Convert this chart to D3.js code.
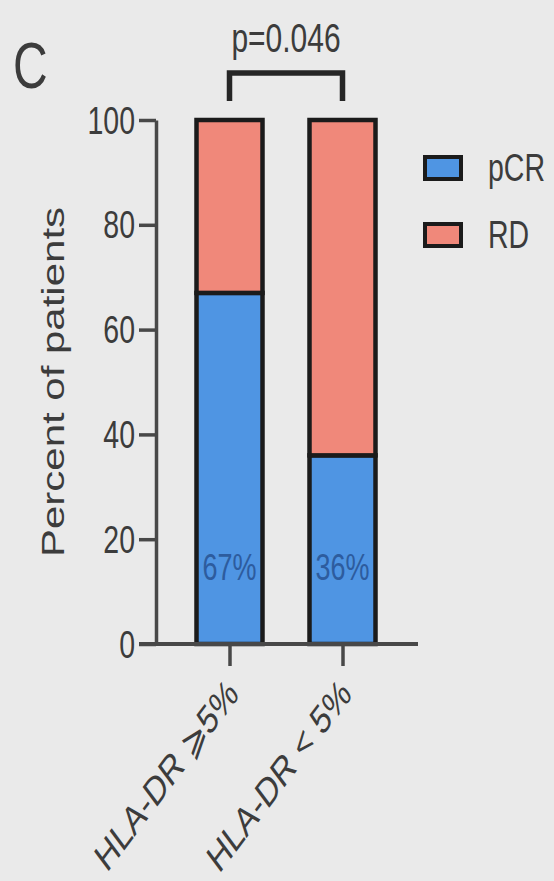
<!DOCTYPE html>
<html>
<head>
<meta charset="utf-8">
<script src="https://cdn.jsdelivr.net/npm/d3@7"></script>
<style>
  html, body { margin: 0; padding: 0; background: #eaeaea; }
  svg { display: block; }
  text { font-family: "Liberation Sans", Arial, Helvetica, sans-serif; }
</style>
</head>
<body>
<script>
// Percent of patients reaching pCR vs RD, split by HLA-DR expression
const categories = ["HLA-DR \u2A7E5%", "HLA-DR < 5%"];
const pCR = [67, 36];
const RD = [33, 64];
const pctLabels = ["67%", "36%"];
const yTicks = [0, 20, 40, 60, 80, 100];
const seriesNames = ["pCR", "RD"];
const seriesColors = ["#4f95e3", "#f0887a"];
const pValueText = "p=0.046";

const W = 554, H = 881;
const SX = 0.75;            // horizontal squeeze applied to every text run
const ink = "#3c3c3c";
const edge = "#1b1b1b";

const svg = d3.select("body").append("svg")
  .attr("width", W).attr("height", H)
  .style("background", "#eaeaea");

const y = d3.scaleLinear().domain([0, 100]).range([644, 120]);
const x = d3.scalePoint().domain(categories).range([173, 399]).padding(0.5);
const barW = 66;

// stacked bars
const stacks = categories.map((c, i) => [
  { key: "pCR", y0: 0, y1: pCR[i], cat: c },
  { key: "RD", y0: pCR[i], y1: pCR[i] + RD[i], cat: c }
]);
const color = d3.scaleOrdinal().domain(seriesNames).range(seriesColors);

const bars = svg.append("g");
stacks.forEach(segs => {
  bars.selectAll(null).data(segs).enter().append("rect")
    .attr("x", d => x(d.cat) - barW / 2)
    .attr("width", barW)
    .attr("y", d => y(d.y1))
    .attr("height", d => y(d.y0) - y(d.y1))
    .attr("fill", d => color(d.key))
    .attr("stroke", edge)
    .attr("stroke-width", 4.5);
});

// value labels inside the pCR segments
svg.append("g").selectAll("text").data(categories).enter().append("text")
  .attr("transform", d => `translate(${x(d)},580) scale(${SX},1)`)
  .attr("text-anchor", "middle")
  .attr("font-size", 36)
  .attr("fill", "#2d5c9e")
  .text((d, i) => pctLabels[i]);

// y axis
const yAxis = svg.append("g")
  .attr("transform", "translate(156,0)")
  .call(d3.axisLeft(y).tickValues(yTicks).tickSize(17).tickSizeOuter(0));
yAxis.select(".domain").attr("stroke", "#484848").attr("stroke-width", 3.5);
yAxis.selectAll(".tick line").attr("stroke", "#484848").attr("stroke-width", 3.5);
yAxis.selectAll(".tick text")
  .attr("x", null).attr("dy", null)
  .attr("transform", `translate(-21,0) scale(${SX},1)`)
  .attr("dominant-baseline", "central")
  .attr("font-size", 38)
  .attr("font-family", "Liberation Sans, Arial, sans-serif")
  .attr("fill", ink);

// x axis baseline and category ticks
svg.append("line")
  .attr("x1", 139).attr("x2", 418)
  .attr("y1", y(0)).attr("y2", y(0))
  .attr("stroke", "#484848").attr("stroke-width", 4);
const xAxis = svg.append("g")
  .attr("transform", `translate(0,${y(0)})`)
  .call(d3.axisBottom(x).tickSize(22).tickSizeOuter(0));
xAxis.select(".domain").remove();
xAxis.selectAll(".tick line").attr("stroke", "#484848").attr("stroke-width", 3.5);
xAxis.selectAll(".tick text")
  .attr("y", null).attr("dy", null)
  .attr("transform", `translate(10,52) scale(${SX},1) rotate(-45)`)
  .attr("text-anchor", "end")
  .attr("font-size", 40)
  .attr("font-family", "Liberation Sans, DejaVu Sans, Arial, sans-serif")
  .attr("fill", ink);

// y axis title
svg.append("text")
  .attr("transform", `translate(64,${(y(0) + y(100)) / 2 + 0}) scale(${SX},1) rotate(-90)`)
  .attr("text-anchor", "middle")
  .attr("font-size", 42)
  .attr("fill", ink)
  .text("Percent of patients");

// significance bracket
const bx1 = x(categories[0]), bx2 = x(categories[1]);
svg.append("path")
  .attr("d", `M${bx1},101V73H${bx2}V101`)
  .attr("fill", "none")
  .attr("stroke", "#262626")
  .attr("stroke-width", 5.5);
svg.append("text")
  .attr("transform", `translate(${(bx1 + bx2) / 2},52) scale(${SX},1)`)
  .attr("text-anchor", "middle")
  .attr("font-size", 40)
  .attr("fill", ink)
  .text(pValueText);

// panel letter
svg.append("text")
  .attr("transform", `translate(13,88) scale(${SX},1)`)
  .attr("font-size", 64)
  .attr("fill", ink)
  .text("C");

// legend
const legend = svg.append("g").selectAll("g").data(seriesNames).enter().append("g")
  .attr("transform", (d, i) => `translate(425,${168 + i * 67})`);
legend.append("rect")
  .attr("x", 0).attr("y", -11).attr("width", 36).attr("height", 22)
  .attr("fill", d => color(d))
  .attr("stroke", edge).attr("stroke-width", 4);
legend.append("text")
  .attr("transform", `translate(63,0) scale(${SX},1)`)
  .attr("dominant-baseline", "central")
  .attr("font-size", 38)
  .attr("fill", ink)
  .text(d => d);
</script>
</body>
</html>
